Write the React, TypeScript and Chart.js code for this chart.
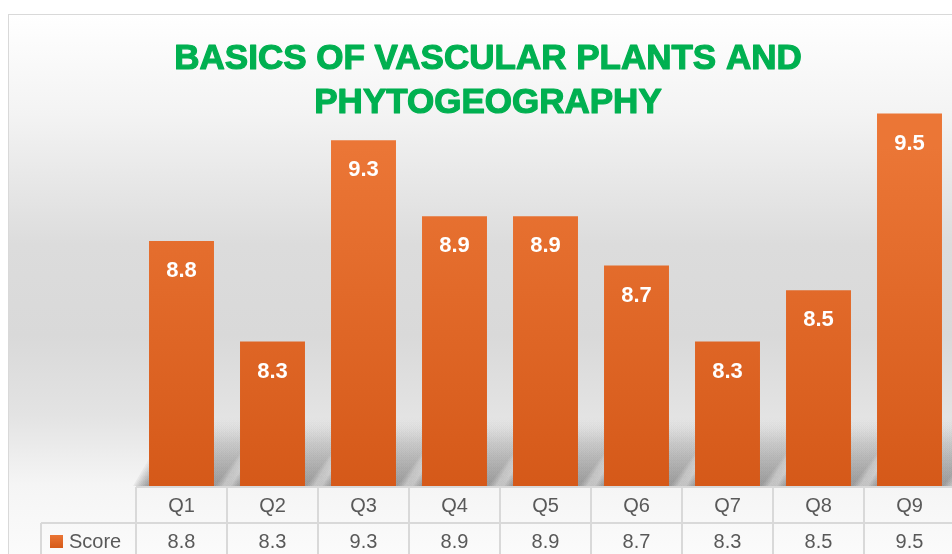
import React, { useEffect, useRef } from "react";
import { Chart, registerables } from "chart.js";

Chart.register(...registerables);

const titleLines = ["BASICS OF VASCULAR PLANTS AND", "PHYTOGEOGRAPHY"];
const categories = ["Q1", "Q2", "Q3", "Q4", "Q5", "Q6", "Q7", "Q8", "Q9"];
const seriesName = "Score";
const scores = [8.79, 8.26, 9.32, 8.92, 8.92, 8.66, 8.26, 8.53, 9.46];

const GRID = "#d9d9d9";
const TEXT = "#595959";

function App() {
  const ref = useRef<HTMLCanvasElement | null>(null);

  useEffect(() => {
    const canvas = ref.current;
    if (!canvas) return;

    const shadowPlugin = {
      id: "barShadow",
      beforeDatasetsDraw(chart: any) {
        const { ctx, chartArea } = chart;
        const meta = chart.getDatasetMeta(0);
        ctx.save();
        const base = chartArea.bottom;
        meta.data.forEach((bar: any) => {
          const p = bar.getProps(["x", "y", "width"], true);
          const half = p.width / 2;
          const hh = Math.min(55, base - p.y);
          const layers = 10;
          for (let k = 0; k < layers; k++) {
            const e = (layers - k) * 1.6;
            const g = ctx.createLinearGradient(0, base, 0, base - hh - e);
            g.addColorStop(0, "rgba(70,70,70,0.07)");
            g.addColorStop(1, "rgba(70,70,70,0)");
            ctx.fillStyle = g;
            ctx.beginPath();
            ctx.moveTo(p.x - half - e, base);
            ctx.lineTo(p.x + half + e, base);
            ctx.lineTo(p.x + half + 42 + e, base - hh - e);
            ctx.lineTo(p.x - half + 42 - e, base - hh - e);
            ctx.closePath();
            ctx.fill();
          }
        });
        ctx.restore();
      },
    };

    const overlayPlugin = {
      id: "overlay",
      afterDatasetsDraw(chart: any) {
        const { ctx } = chart;
        const meta = chart.getDatasetMeta(0);
        ctx.save();
        ctx.fillStyle = "#ffffff";
        ctx.font = "bold 22px 'Liberation Sans', Arial, sans-serif";
        ctx.textAlign = "center";
        ctx.textBaseline = "middle";
        meta.data.forEach((bar: any, i: number) => {
          ctx.fillText(scores[i].toFixed(1), bar.x, bar.y + 30);
        });
        ctx.restore();
      },
      afterDraw(chart: any) {
        const { ctx, chartArea } = chart;
        const xs = chart.scales.x;
        const w = chart.width;
        const h = chart.height;
        const top = chartArea.bottom + 1;
        const rowH = 36;
        const mid = top + rowH;
        const legendLeft = 32;
        ctx.save();
        ctx.strokeStyle = GRID;
        ctx.lineWidth = 2;
        ctx.beginPath();
        ctx.moveTo(chartArea.left, top);
        ctx.lineTo(w, top);
        ctx.moveTo(legendLeft, mid);
        ctx.lineTo(w, mid);
        ctx.moveTo(legendLeft, mid);
        ctx.lineTo(legendLeft, h);
        const step = (chartArea.right - chartArea.left) / categories.length;
        for (let i = 0; i <= categories.length; i++) {
          const x = chartArea.left + i * step;
          ctx.moveTo(x, top);
          ctx.lineTo(x, h);
        }
        ctx.stroke();

        ctx.fillStyle = TEXT;
        ctx.font = "20px 'Liberation Sans', Arial, sans-serif";
        ctx.textAlign = "center";
        ctx.textBaseline = "middle";
        categories.forEach((c, i) => {
          const x = xs.getPixelForValue(i);
          ctx.fillText(c, x, top + rowH / 2 + 1);
          ctx.fillText(scores[i].toFixed(1), x, mid + 19);
        });
        // legend key
        const kg = ctx.createLinearGradient(0, mid + 12, 0, mid + 25);
        kg.addColorStop(0, "#EA7535");
        kg.addColorStop(1, "#D65A19");
        ctx.fillStyle = kg;
        ctx.fillRect(legendLeft + 9, mid + 12, 13, 13);
        ctx.fillStyle = TEXT;
        ctx.textAlign = "left";
        ctx.fillText(seriesName, legendLeft + 28, mid + 19);

        // title
        ctx.fillStyle = "#00B050";
        ctx.strokeStyle = "#00B050";
        ctx.lineWidth = 1.2;
        ctx.lineJoin = "round";
        ctx.font = "bold 35px 'Liberation Sans', Arial, sans-serif";
        ctx.textAlign = "center";
        titleLines.forEach((t, i) => {
          ctx.fillText(t, 479, 44 + i * 44);
          ctx.strokeText(t, 479, 44 + i * 44);
        });
        ctx.restore();
      },
    };

    const chart = new Chart(canvas, {
      type: "bar",
      data: {
        labels: categories,
        datasets: [
          {
            label: seriesName,
            data: scores,
            backgroundColor: (c: any) => {
              const ch = c.chart;
              const ca = ch.chartArea;
              if (!ca) return "#E36A2A";
              const g = ch.ctx.createLinearGradient(0, ca.top + 60, 0, ca.bottom);
              g.addColorStop(0, "#EB7636");
              g.addColorStop(1, "#D55919");
              return g;
            },
            borderWidth: 0,
            barPercentage: 0.714,
            categoryPercentage: 1,
          },
        ],
      },
      options: {
        responsive: false,
        animation: false,
        layout: { padding: { left: 127, right: 14, top: 72, bottom: 89 } },
        plugins: {
          legend: { display: false },
          title: { display: false },
          tooltip: { enabled: false },
        },
        scales: {
          x: { display: false },
          y: { display: false, min: 7.5, max: 9.6 },
        },
      },
      plugins: [shadowPlugin, overlayPlugin],
    });
    return () => chart.destroy();
  }, []);

  return (
    <div
      style={{
        position: "fixed",
        left: 8,
        top: 14,
        width: 944,
        height: 540,
        overflow: "hidden",
        borderTop: "1px solid #d9d9d9",
        borderLeft: "1px solid #d9d9d9",
        boxSizing: "border-box",
        background:
          "linear-gradient(to bottom, #ffffff 0px, #f3f3f3 100px, #dcdcdc 230px, #d9d9d9 320px, #e3e3e3 400px, #f5f5f5 470px, #fbfbfb 540px)",
      }}
    >
      <canvas ref={ref} width={960} height={560} style={{ display: "block", width: 960, height: 560 }} />
    </div>
  );
}

export default App;
